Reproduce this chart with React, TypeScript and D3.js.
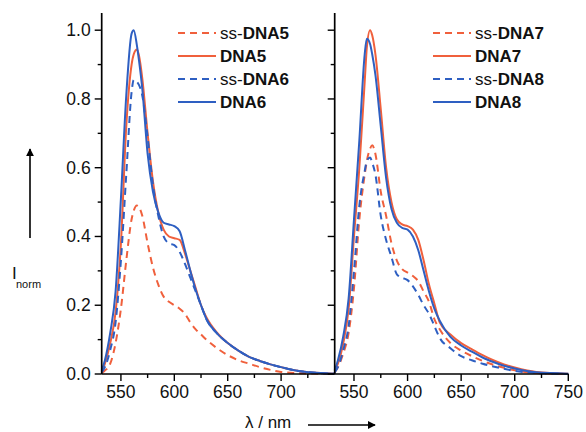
import React from "react";
import * as d3 from "d3";

const wavelengths = [532, 535, 540, 545, 550, 555, 560, 562, 565, 567, 570, 575, 580, 585, 590, 595, 600, 605, 610, 615, 620, 625, 630, 640, 650, 660, 670, 680, 690, 700, 720, 750];

// Left panel
const ssDNA5 = [0.003, 0.01, 0.03, 0.09, 0.19, 0.33, 0.45, 0.475, 0.49, 0.485, 0.46, 0.38, 0.31, 0.26, 0.225, 0.21, 0.2, 0.19, 0.175, 0.15, 0.13, 0.115, 0.1, 0.075, 0.055, 0.04, 0.03, 0.02, 0.012, 0.006, 0.002, 0.0];
const DNA5 = [0.005, 0.03, 0.09, 0.18, 0.38, 0.72, 0.9, 0.93, 0.944, 0.925, 0.86, 0.7, 0.56, 0.47, 0.42, 0.4, 0.395, 0.39, 0.35, 0.3, 0.25, 0.2, 0.165, 0.12, 0.09, 0.068, 0.05, 0.038, 0.028, 0.02, 0.007, 0.001];
const ssDNA6 = [0.005, 0.02, 0.07, 0.15, 0.33, 0.58, 0.82, 0.855, 0.85, 0.84, 0.81, 0.69, 0.55, 0.46, 0.4, 0.38, 0.375, 0.355, 0.32, 0.28, 0.24, 0.2, 0.16, 0.118, 0.09, 0.068, 0.05, 0.038, 0.028, 0.02, 0.007, 0.001];
const DNA6 = [0.01, 0.04, 0.12, 0.24, 0.51, 0.81, 0.99, 1.0, 0.955, 0.91, 0.83, 0.64, 0.53, 0.47, 0.44, 0.435, 0.43, 0.415, 0.36, 0.3, 0.245, 0.2, 0.16, 0.118, 0.09, 0.068, 0.05, 0.038, 0.028, 0.02, 0.007, 0.001];

// Right panel
const ssDNA7 = [0.005, 0.02, 0.06, 0.12, 0.25, 0.45, 0.58, 0.62, 0.655, 0.665, 0.64, 0.53, 0.46, 0.38, 0.33, 0.305, 0.295, 0.285, 0.27, 0.24, 0.21, 0.16, 0.13, 0.09, 0.068, 0.052, 0.038, 0.027, 0.018, 0.011, 0.003, 0.0];
const DNA7 = [0.01, 0.03, 0.09, 0.19, 0.4, 0.6, 0.85, 0.95, 1.0, 0.985, 0.93, 0.77, 0.6, 0.5, 0.45, 0.435, 0.43, 0.42, 0.39, 0.33, 0.26, 0.205, 0.15, 0.115, 0.09, 0.072, 0.055, 0.04, 0.028, 0.019, 0.006, 0.001];
const ssDNA8 = [0.005, 0.02, 0.07, 0.14, 0.3, 0.49, 0.59, 0.62, 0.63, 0.615, 0.58, 0.46, 0.39, 0.34, 0.29, 0.28, 0.273, 0.255, 0.23, 0.2, 0.175, 0.14, 0.105, 0.075, 0.052, 0.04, 0.03, 0.022, 0.015, 0.009, 0.003, 0.0];
const DNA8 = [0.01, 0.04, 0.11, 0.22, 0.45, 0.68, 0.93, 0.975, 0.96, 0.93, 0.87, 0.72, 0.57, 0.48, 0.44, 0.425, 0.42, 0.4, 0.36, 0.3, 0.24, 0.19, 0.155, 0.108, 0.083, 0.065, 0.048, 0.035, 0.024, 0.016, 0.005, 0.001];

const yTicks = [0, 0.2, 0.4, 0.6, 0.8, 1.0];
const yMinorTicks = [0.1, 0.3, 0.5, 0.7, 0.9];
const xTicksLeft = [550, 600, 650, 700];
const xTicksRight = [550, 600, 650, 700, 750];
const xMinorTicks = [575, 625, 675, 725];

const RED = "#f0603c";
const BLUE = "#2e5fc2";

type Series = { name: string; prefix: string; values: number[]; color: string; dashed: boolean };

const leftSeries: Series[] = [
  { name: "DNA5", prefix: "ss-", values: ssDNA5, color: RED, dashed: true },
  { name: "DNA5", prefix: "", values: DNA5, color: RED, dashed: false },
  { name: "DNA6", prefix: "ss-", values: ssDNA6, color: BLUE, dashed: true },
  { name: "DNA6", prefix: "", values: DNA6, color: BLUE, dashed: false },
];
const rightSeries: Series[] = [
  { name: "DNA7", prefix: "ss-", values: ssDNA7, color: RED, dashed: true },
  { name: "DNA7", prefix: "", values: DNA7, color: RED, dashed: false },
  { name: "DNA8", prefix: "ss-", values: ssDNA8, color: BLUE, dashed: true },
  { name: "DNA8", prefix: "", values: DNA8, color: BLUE, dashed: false },
];

const FONT = "'Liberation Sans', Arial, sans-serif";

const y = d3.scaleLinear().domain([0, 1.05]).range([374, 13]);

function Panel({ x0, x1, series, xTicks, showYLabels, legendX }: { x0: number; x1: number; series: Series[]; xTicks: number[]; showYLabels: boolean; legendX: number }) {
  const x = d3.scaleLinear().domain([532, 750]).range([x0, x1]);
  const line = d3
    .line<number>()
    .x((_, i) => x(wavelengths[i]))
    .y((d) => y(d))
    .curve(d3.curveMonotoneX);
  const legendYs = [33, 56, 79, 102];
  return (
    <g>
      {series.map((s, i) => (
        <path key={i} d={line(s.values) || ""} fill="none" stroke={s.color} strokeWidth={2} strokeDasharray={s.dashed ? "7,5" : undefined} />
      ))}
      {/* y axis */}
      <line x1={x0} x2={x0} y1={y(1.05)} y2={y(0)} stroke="#000" strokeWidth={1.7} />
      {yTicks.map((t) => (
        <g key={"y" + t}>
          <line x1={x0 - 7} x2={x0} y1={y(t)} y2={y(t)} stroke="#000" strokeWidth={1.4} />
          {showYLabels && (
            <text x={x0 - 11} y={y(t) + 6} textAnchor="end" fontFamily={FONT} fontSize={17.5} fill="#111">
              {t.toFixed(1)}
            </text>
          )}
        </g>
      ))}
      {yMinorTicks.map((t) => (
        <line key={"ym" + t} x1={x0 - 4} x2={x0} y1={y(t)} y2={y(t)} stroke="#000" strokeWidth={1.4} />
      ))}
      {/* x axis */}
      <line x1={x0} x2={x1} y1={y(0)} y2={y(0)} stroke="#000" strokeWidth={1.7} />
      {xTicks.map((t) => (
        <g key={"x" + t}>
          <line x1={x(t)} x2={x(t)} y1={y(0)} y2={y(0) + 7} stroke="#000" strokeWidth={1.4} />
          <text x={x(t)} y={398} textAnchor="middle" fontFamily={FONT} fontSize={17.5} fill="#111">
            {t}
          </text>
        </g>
      ))}
      {xMinorTicks.map((t) => (
        <line key={"xm" + t} x1={x(t)} x2={x(t)} y1={y(0)} y2={y(0) + 4} stroke="#000" strokeWidth={1.4} />
      ))}
      {/* legend */}
      {series.map((s, i) => (
        <g key={"lg" + i}>
          <line x1={legendX} x2={legendX + 38} y1={legendYs[i]} y2={legendYs[i]} stroke={s.color} strokeWidth={2} strokeDasharray={s.dashed ? "7,5" : undefined} />
          <text x={legendX + 42} y={legendYs[i] + 6} fontFamily={FONT} fontSize={17} fill="#111">
            {s.prefix && <tspan>{s.prefix}</tspan>}
            <tspan fontWeight="bold">{s.name}</tspan>
          </text>
        </g>
      ))}
    </g>
  );
}

export default function App() {
  return (
    <svg width={586} height={432} style={{ position: "absolute", left: 0, top: 0, background: "#fff" }}>
      <Panel x0={101.7} x1={334.5} series={leftSeries} xTicks={xTicksLeft} showYLabels={true} legendX={178} />
      <Panel x0={334.7} x1={568.3} series={rightSeries} xTicks={xTicksRight} showYLabels={false} legendX={433} />
      <defs>
        <marker id="ah" viewBox="0 0 10 10" refX="9" refY="5" markerWidth="5" markerHeight="5" orient="auto-start-reverse">
          <path d="M0,0 L10,5 L0,10 z" fill="#000" />
        </marker>
      </defs>
      {/* y label */}
      <line x1={30} x2={30} y1={238} y2={149} stroke="#000" strokeWidth={1.6} markerEnd="url(#ah)" />
      <text x={12} y={279} fontFamily={FONT} fontSize={17} fill="#111">I</text>
      <text x={16} y={288} fontFamily={FONT} fontSize={11} fill="#111">norm</text>
      {/* x label */}
      <text x={245} y={428} fontFamily={FONT} fontSize={17} fill="#111">λ / nm</text>
      <line x1={308} x2={375} y1={425} y2={425} stroke="#000" strokeWidth={1.6} markerEnd="url(#ah)" />
    </svg>
  );
}
